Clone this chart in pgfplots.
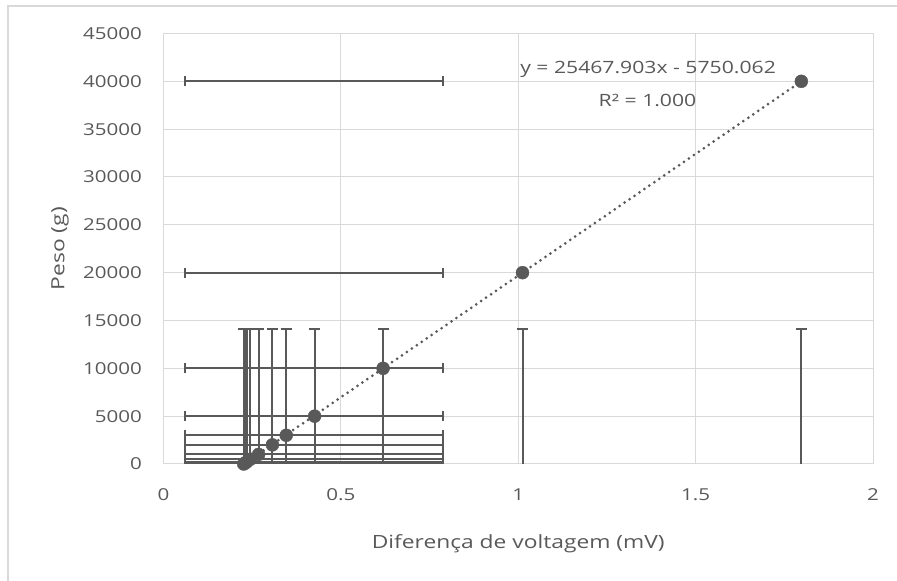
\documentclass[border=0pt]{standalone}
\usepackage{fontspec}
\setmainfont{Open Sans}
\newfontfamily\wfont[FakeStretch=1.25]{Open Sans}
\usepackage{pgfplots}
\pgfplotsset{compat=1.18}
\definecolor{txt}{HTML}{595959}
\definecolor{grd}{HTML}{D9D9D9}
\definecolor{ser}{HTML}{595959}
\begin{document}
\begin{tikzpicture}[x=1bp,y=1bp]
\useasboundingbox (-163.5,-117) rectangle (733.5,464);
\draw[grd,line width=1.2bp] (-155.5,-117) -- (-155.5,458) -- (733.5,458);
\begin{axis}[
  at={(0,0)}, anchor=south west,
  scale only axis, width=709.5bp, height=430.5bp,
  xmin=0, xmax=2, ymin=0, ymax=45000,
  xtick={0,0.5,...,2}, ytick={0,5000,...,45000},
  xticklabels={0,0.5,1,1.5,2},
  scaled y ticks=false,
  yticklabel style={/pgf/number format/fixed,/pgf/number format/1000 sep={}},
  /pgf/number format/assume math mode=true,
  grid=major, major grid style={grd,line width=1bp},
  axis x line*=bottom, axis y line*=left,
  x axis line style={grd,line width=1bp,-},
  y axis line style={draw=none},
  major tick length=0pt,
  tick label style={font=\wfont\fontsize{16.5}{19}\selectfont, text=txt, inner sep=0pt},
  xticklabel style={anchor=base, yshift=-37bp},
  yticklabel style={anchor=east, xshift=-21.5bp},
  xlabel={Diferença de voltagem (mV)},
  ylabel={Peso (g)},
  label style={font=\wfont\fontsize{18.3}{21}\selectfont, text=txt, inner sep=0pt},
  xlabel style={at={(axis description cs:0.5,0)}, anchor=base, yshift=-84bp},
  ylabel style={at={(axis description cs:-0.1459,0.5)}, anchor=center},
  clip=true,
]
% vertical error bars (from below axis up to cap)
\addplot+[draw=none, mark=none, forget plot,
  error bars/.cd, y dir=plus, y explicit,
  error bar style={ser, line width=2bp},
  error mark=|,
  error mark options={ser, line width=2bp, mark size=5.5bp}]
  coordinates {
  (0.226,-2000) +- (0,16100)
  (0.230,-2000) +- (0,16100)
  (0.234,-2000) +- (0,16100)
  (0.245,-2000) +- (0,16100)
  (0.268,-2000) +- (0,16100)
  (0.307,-2000) +- (0,16100)
  (0.346,-2000) +- (0,16100)
  (0.426,-2000) +- (0,16100)
  (0.619,-2000) +- (0,16100)
  (1.012,-2000) +- (0,16100)
  (1.798,-2000) +- (0,16100)
  };
% horizontal error bars
\addplot+[draw=none, mark=none, forget plot,
  error bars/.cd, x dir=both, x explicit,
  error bar style={ser, line width=2bp},
  error mark=|,
  error mark options={ser, line width=2bp, mark size=5bp}]
  coordinates {
  (0.425,0) +- (0.364,0)
  (0.425,100) +- (0.364,0)
  (0.425,200) +- (0.364,0)
  (0.425,500) +- (0.364,0)
  (0.425,1000) +- (0.364,0)
  (0.425,2000) +- (0.364,0)
  (0.425,3000) +- (0.364,0)
  (0.425,5000) +- (0.364,0)
  (0.425,10000) +- (0.364,0)
  (0.425,20000) +- (0.364,0)
  (0.425,40000) +- (0.364,0)
  };
% data points
\addplot[only marks, mark=*, mark size=6.5bp, color=ser, mark options={draw=ser, fill=ser}]
  coordinates {
  (0.226,0) (0.230,100) (0.234,200) (0.245,500) (0.268,1000)
  (0.307,2000) (0.346,3000) (0.426,5000) (0.619,10000)
  (1.012,20000) (1.798,40000)
  };
% linear trendline
\addplot[ser, line width=3bp, dash pattern=on 0pt off 6bp, line cap=round]
  coordinates {(0.226,0) (1.798,40000)};
\node[text=txt, font=\wfont\fontsize{17}{20}\selectfont, inner sep=0pt] at (axis cs:1.3658,41237)
  {y = 25467.903x - 5750.062};
\node[text=txt, font=\wfont\fontsize{17}{20}\selectfont, inner sep=0pt] at (axis cs:1.3644,38049)
  {R² = 1.000};
\end{axis}
\end{tikzpicture}
\end{document}
